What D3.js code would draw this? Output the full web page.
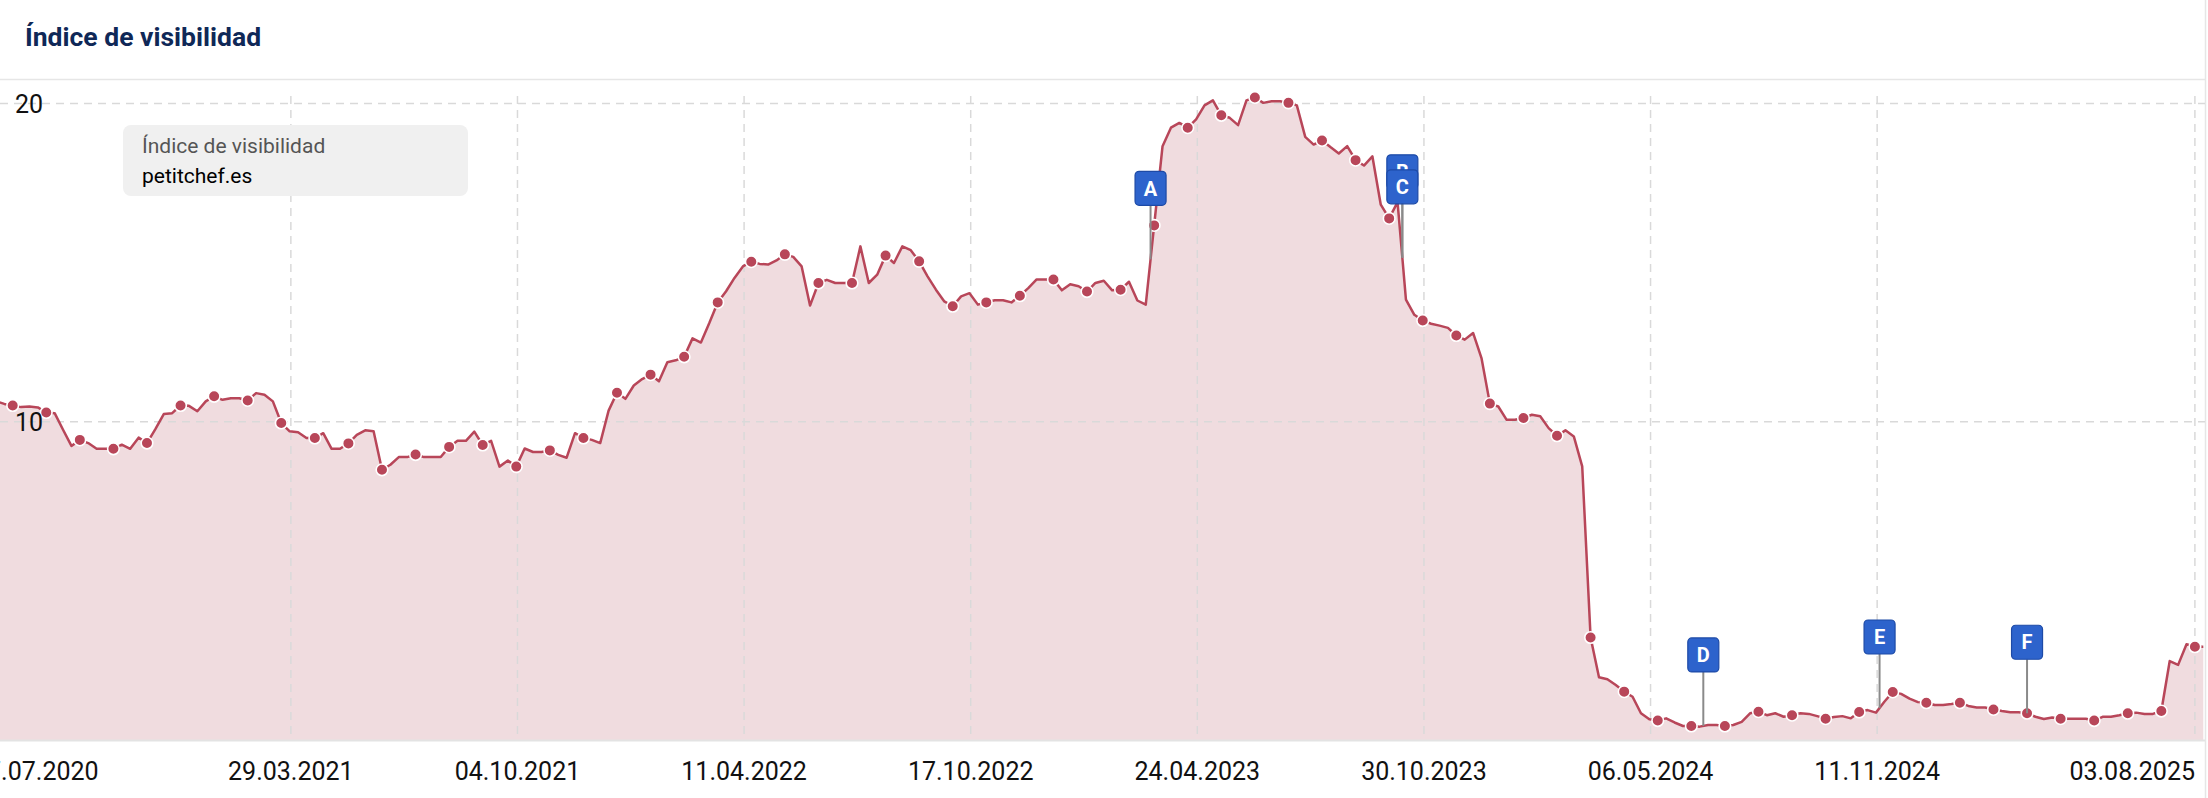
<!DOCTYPE html>
<html>
<head>
<meta charset="utf-8">
<script src="https://cdn.jsdelivr.net/npm/d3@7"></script>
<style>
  html, body { margin: 0; padding: 0; background: #ffffff; }
  svg { display: block; font-family: Roboto, "Noto Sans", sans-serif; }
</style>
</head>
<body>
<svg id="chart" width="2208" height="798"></svg>
<script>
// ---------------- DATA ----------------
const chartTitle = "Índice de visibilidad";
const legendTitle = "Índice de visibilidad";
const seriesName = "petitchef.es";
const firstWeek = "2020-07-26";   // weekly series, one value per week
const visibility = [
  10.65, 10.56, 10.51, 10.46, 10.48, 10.45, 10.29, 10.27, 9.75, 9.24,
  9.43, 9.33, 9.15, 9.15, 9.15, 9.28, 9.15, 9.50, 9.33, 9.77,
  10.24, 10.27, 10.51, 10.50, 10.33, 10.64, 10.80, 10.69, 10.74, 10.74,
  10.67, 10.90, 10.85, 10.64, 9.96, 9.70, 9.67, 9.49, 9.49, 9.64,
  9.15, 9.15, 9.32, 9.59, 9.73, 9.70, 8.49, 8.65, 8.89, 8.89,
  8.97, 8.89, 8.89, 8.89, 9.21, 9.40, 9.40, 9.69, 9.27, 9.40,
  8.59, 8.78, 8.59, 9.16, 9.05, 9.05, 9.10, 8.96, 8.87, 9.64,
  9.49, 9.43, 9.33, 10.35, 10.91, 10.72, 11.14, 11.34, 11.48, 11.27,
  11.87, 11.93, 12.04, 12.62, 12.49, 13.10, 13.75, 14.10, 14.52, 14.88,
  15.03, 14.96, 14.94, 15.07, 15.26, 15.18, 14.88, 13.65, 14.36, 14.46,
  14.36, 14.36, 14.36, 15.51, 14.36, 14.62, 15.22, 14.99, 15.51, 15.39,
  15.04, 14.57, 14.15, 13.78, 13.63, 13.94, 14.04, 13.68, 13.75, 13.82,
  13.82, 13.75, 13.96, 14.20, 14.47, 14.47, 14.47, 14.13, 14.32, 14.26,
  14.09, 14.36, 14.43, 14.13, 14.15, 14.40, 13.81, 13.68, 16.17, 18.66,
  19.24, 19.39, 19.24, 19.50, 19.94, 20.10, 19.63, 19.55, 19.32, 20.10,
  20.19, 20.02, 20.07, 20.07, 20.02, 19.94, 18.95, 18.71, 18.84, 18.63,
  18.43, 18.66, 18.22, 18.05, 18.34, 16.82, 16.39, 16.90, 13.84, 13.36,
  13.18, 13.08, 13.02, 12.95, 12.71, 12.58, 12.79, 12.00, 10.57, 10.48,
  10.06, 10.06, 10.12, 10.22, 10.17, 9.80, 9.56, 9.73, 9.54, 8.60,
  3.22, 1.97, 1.91, 1.73, 1.52, 1.36, 0.84, 0.65, 0.61, 0.68,
  0.55, 0.44, 0.44, 0.42, 0.47, 0.47, 0.44, 0.47, 0.57, 0.84,
  0.89, 0.78, 0.84, 0.73, 0.78, 0.84, 0.82, 0.75, 0.67, 0.72,
  0.75, 0.68, 0.88, 0.94, 0.86, 1.20, 1.51, 1.45, 1.30, 1.19,
  1.17, 1.10, 1.10, 1.13, 1.17, 1.07, 1.02, 1.02, 0.96, 0.91,
  0.87, 0.87, 0.84, 0.73, 0.66, 0.71, 0.67, 0.67, 0.67, 0.67,
  0.61, 0.73, 0.73, 0.78, 0.84, 0.86, 0.82, 0.82, 0.91, 2.48,
  2.36, 3.01, 2.93, 2.93
];
const yTicks = [10, 20];
const xTickDates = ["2020-07-27", "2021-03-29", "2021-10-04", "2022-04-11", "2022-10-17",
                    "2023-04-24", "2023-10-30", "2024-05-06", "2024-11-11", "2025-08-03"];
const xTickLabels = ["27.07.2020", "29.03.2021", "04.10.2021", "11.04.2022", "17.10.2022",
                     "24.04.2023", "30.10.2023", "06.05.2024", "11.11.2024", "03.08.2025"];
const flagLetters = ["A", "B", "C", "D", "E", "F"];
const flagDates = ["2023-03-16", "2023-10-12", "2023-10-12", "2024-06-19", "2024-11-13", "2025-03-16"];

// ---------------- LAYOUT / STYLE ----------------
const W = 2208, H = 798;
const plotTop = 96, plotBottom = 740, plotRight = 2205;
const lineColor = "#b84659";
const areaColor = "#f0dcdf";
const gridColor = "#d9d9d9";
const flagColor = "#2d63cc";

const parse = d3.utcParse("%Y-%m-%d");
const start = parse(firstWeek);
const data = visibility.map((v, i) => ({ date: d3.utcDay.offset(start, 7 * i), value: v, i }));

const svg = d3.select("#chart");

const x = d3.scaleUtc()
  .domain([data[0].date, data[data.length - 1].date])
  .range([-4.1, 2203.3]);
const y = d3.scaleLinear().domain([0, 20]).range([plotBottom, 103.5]);

// header
svg.append("text")
  .attr("x", 25).attr("y", 46)
  .attr("font-size", 26.5).attr("font-weight", 700)
  .attr("fill", "#0f2857")
  .text(chartTitle);
svg.append("line")
  .attr("x1", 0).attr("x2", plotRight).attr("y1", 79.5).attr("y2", 79.5)
  .attr("stroke", "#e6e6e6").attr("stroke-width", 1.5);
svg.append("line")
  .attr("x1", plotRight + 0.5).attr("x2", plotRight + 0.5).attr("y1", 0).attr("y2", H)
  .attr("stroke", "#e6e6e6").attr("stroke-width", 1.5);

// area (drawn first, grid over it)
const area = d3.area().x(d => x(d.date)).y0(y(0)).y1(d => y(d.value));
const line = d3.line().x(d => x(d.date)).y(d => y(d.value));
svg.append("path").datum(data).attr("d", area).attr("fill", areaColor);

// grid
const gGrid = svg.append("g");
gGrid.selectAll("line.h").data(yTicks).join("line")
  .attr("class", "h")
  .attr("x1", 0).attr("x2", plotRight)
  .attr("y1", d => y(d)).attr("y2", d => y(d))
  .attr("stroke", gridColor).attr("stroke-width", 1.5)
  .attr("stroke-dasharray", "8,6");
gGrid.selectAll("line.v").data(xTickDates.map(parse)).join("line")
  .attr("class", "v")
  .attr("x1", d => x(d)).attr("x2", d => x(d))
  .attr("y1", plotTop).attr("y2", plotBottom)
  .attr("stroke", gridColor).attr("stroke-width", 1.5)
  .attr("stroke-dasharray", "8,6");

svg.append("path").datum(data).attr("d", line)
  .attr("fill", "none").attr("stroke", lineColor).attr("stroke-width", 2.5)
  .attr("stroke-linejoin", "round");

// bottom axis line
svg.append("line")
  .attr("x1", 0).attr("x2", plotRight).attr("y1", plotBottom + 0.5).attr("y2", plotBottom + 0.5)
  .attr("stroke", "#e3e3e3").attr("stroke-width", 2);

// markers every 4th week
svg.append("g").selectAll("circle")
  .data(data.filter(d => (d.i - 2) % 4 === 0))
  .join("circle")
  .attr("cx", d => x(d.date)).attr("cy", d => y(d.value))
  .attr("r", 5.8)
  .attr("fill", lineColor).attr("stroke", "#ffffff").attr("stroke-width", 1.6);

// y labels
svg.append("g").selectAll("text").data(yTicks).join("text")
  .attr("x", 15).attr("y", d => y(d)).attr("dy", "0.36em")
  .attr("font-size", 25).attr("fill", "#111")
  .text(d => d);

// x labels (justified inside chart bounds)
const chartLeftBound = -27, chartRightBound = 2195;
const xl = svg.append("g").selectAll("text").data(xTickDates).join("text")
  .attr("y", 780)
  .attr("font-size", 25).attr("fill", "#111")
  .attr("text-anchor", "start")
  .text((d, i) => xTickLabels[i]);
xl.each(function(d) {
  const w = this.getComputedTextLength();
  let left = x(parse(d)) - w / 2;
  if (left < chartLeftBound) left = chartLeftBound;
  if (left + w > chartRightBound) left = chartRightBound - w;
  d3.select(this).attr("x", left);
});

// legend box
svg.append("rect")
  .attr("x", 123).attr("y", 125).attr("width", 345).attr("height", 71)
  .attr("rx", 8).attr("fill", "#f0f0f0");
svg.append("text").attr("x", 142).attr("y", 153)
  .attr("font-size", 21).attr("fill", "#555").text(legendTitle);
svg.append("text").attr("x", 142).attr("y", 183)
  .attr("font-size", 21).attr("fill", "#000").text(seriesName);

// flags
function valueAt(date) {
  const bis = d3.bisector(d => d.date).left;
  const j = Math.max(1, Math.min(data.length - 1, bis(data, date)));
  const a = data[j - 1], b = data[j];
  const t = (date - a.date) / (b.date - a.date);
  return a.value + t * (b.value - a.value);
}
const stemLen = 54, flagW = 31, flagH = 34, stackStep = 15;
const flags = flagLetters.map((l, k) => ({ letter: l, date: parse(flagDates[k]) }));
flags.forEach(f => {
  const same = flags.filter(g => +g.date === +f.date);
  f.stack = same.length - 1 - same.indexOf(f);
});
const gFlags = svg.append("g");
flags.forEach(f => {
  const fx = x(f.date);
  const fy = y(valueAt(f.date));
  const bottom = fy - stemLen - f.stack * stackStep;
  gFlags.append("line")
    .attr("x1", fx).attr("x2", fx).attr("y1", bottom).attr("y2", fy)
    .attr("stroke", "#8a8a8a").attr("stroke-width", 2);
  gFlags.append("rect")
    .attr("x", fx - flagW / 2).attr("y", bottom - flagH)
    .attr("width", flagW).attr("height", flagH).attr("rx", 4)
    .attr("fill", flagColor).attr("stroke", "#1d4aa6").attr("stroke-width", 1.2);
  gFlags.append("text")
    .attr("x", fx).attr("y", bottom - flagH / 2).attr("dy", "0.36em")
    .attr("text-anchor", "middle").attr("font-size", 20).attr("font-weight", 700)
    .attr("fill", "#fff").text(f.letter);
});
</script>
</body>
</html>
